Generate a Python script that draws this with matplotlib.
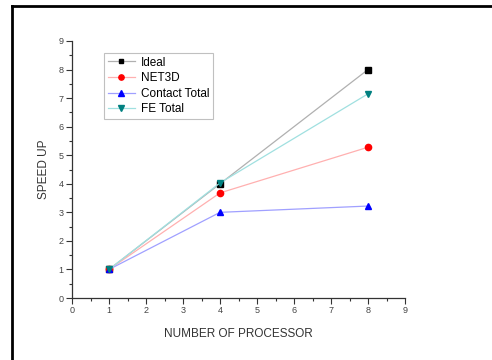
import matplotlib.pyplot as plt
from matplotlib.lines import Line2D
from matplotlib.ticker import MultipleLocator

plt.rcParams['font.family'] = ['Liberation Sans', 'DejaVu Sans']

# dati
processori = [1, 4, 8]
ideal = [1, 4, 8]
net3d = [1, 3.68, 5.28]
contact_total = [1, 3.0, 3.22]
fe_total = [1, 4.03, 7.15]

fig = plt.figure(figsize=(4.92, 3.6), dpi=100)
ax = fig.add_axes([72 / 492, 1 - 298 / 360, 333 / 492, 257 / 360])

# cornice esterna (tagliata a destra e in basso)
fig.add_artist(Line2D([12 / 492, 12 / 492], [0, 1 - 6 / 360], transform=fig.transFigure,
                      color='black', linewidth=2))
fig.add_artist(Line2D([12 / 492, 1], [1 - 6 / 360, 1 - 6 / 360], transform=fig.transFigure,
                      color='black', linewidth=2))

ax.plot(processori, ideal, color='#b0b0b0', linewidth=0.9, marker='s', markersize=4,
        markerfacecolor='black', markeredgecolor='black', label='Ideal')
ax.plot(processori, net3d, color='#ffb0b0', linewidth=0.9, marker='o', markersize=4.5,
        markerfacecolor='red', markeredgecolor='red', label='NET3D')
ax.plot(processori, contact_total, color='#a0a0ff', linewidth=0.9, marker='^', markersize=4.5,
        markerfacecolor='blue', markeredgecolor='blue', label='Contact Total')
ax.plot(processori, fe_total, color='#a0e0e0', linewidth=0.9, marker='v', markersize=4.5,
        markerfacecolor='#008080', markeredgecolor='#008080', label='FE Total')

ax.set_xlim(0, 9)
ax.set_ylim(0, 9)
ax.xaxis.set_major_locator(MultipleLocator(1))
ax.xaxis.set_minor_locator(MultipleLocator(0.5))
ax.yaxis.set_major_locator(MultipleLocator(1))
ax.yaxis.set_minor_locator(MultipleLocator(0.5))

for s in ['top', 'right']:
    ax.spines[s].set_visible(False)
for s in ['left', 'bottom']:
    ax.spines[s].set_color('#333333')
    ax.spines[s].set_linewidth(0.9)

ax.tick_params(which='major', direction='out', length=4, width=0.8, color='#333333',
               labelsize=6.5, labelcolor='#444444', pad=2)
ax.tick_params(which='minor', direction='out', length=2, width=0.8, color='#333333')

ax.set_xlabel('NUMBER OF PROCESSOR', fontsize=8.5, color='#333333', labelpad=9)
ax.set_ylabel('SPEED UP', fontsize=8.5, color='#333333', labelpad=6)

leg = ax.legend(loc='upper left', bbox_to_anchor=(0.096, 0.953), borderaxespad=0,
                fontsize=8.5, fancybox=False, framealpha=1, handlelength=2.3,
                handletextpad=0.5, labelspacing=0.3, borderpad=0.3, markerscale=0.85)
leg.get_frame().set_edgecolor('#c0c0c0')
leg.get_frame().set_linewidth(0.8)

fig.savefig('out.png', dpi=100)
